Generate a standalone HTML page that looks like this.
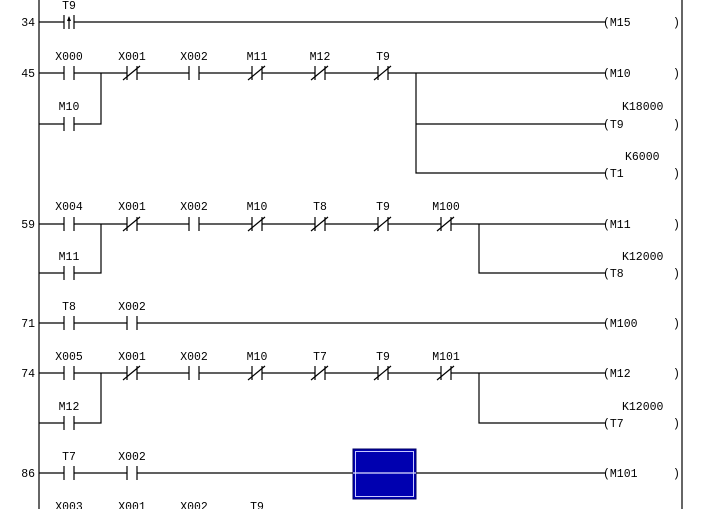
<!DOCTYPE html>
<html><head><meta charset="utf-8"><style>
html,body{margin:0;padding:0;background:#fff;}
svg{display:block;}
text{font-family:"Liberation Mono",monospace;font-size:11.5px;fill:#000;}
</style></head><body>
<svg width="703" height="509" viewBox="0 0 703 509" xmlns="http://www.w3.org/2000/svg">
<defs>
<g id="no"><rect x="-5" y="-8" width="10" height="16" fill="#fff"/><line x1="-5" y1="-7" x2="-5" y2="7" stroke="#000" stroke-width="1.2"/><line x1="5" y1="-7" x2="5" y2="7" stroke="#000" stroke-width="1.2"/></g>
<g id="nc"><use href="#no"/><line x1="-9" y1="7" x2="8" y2="-7" stroke="#000" stroke-width="1.2"/></g>
<g id="rp"><use href="#no"/><line x1="0" y1="-5" x2="0" y2="7" stroke="#000" stroke-width="1.2"/><polygon points="-2,-1 2,-1 0,-6" fill="#000"/></g>
</defs>
<g stroke="#000" stroke-width="1.2" fill="none">
<line x1="39" y1="0" x2="39" y2="509"/>
<line x1="682" y1="0" x2="682" y2="509"/>
<line x1="39" y1="22" x2="606" y2="22"/>
<line x1="39" y1="73" x2="606" y2="73"/>
<polyline points="39,124 101,124 101,73"/>
<polyline points="416,73 416,173 606,173"/>
<line x1="416" y1="124" x2="606" y2="124"/>
<line x1="39" y1="224" x2="606" y2="224"/>
<polyline points="39,273 101,273 101,224"/>
<polyline points="479,224 479,273 606,273"/>
<line x1="39" y1="323" x2="606" y2="323"/>
<line x1="39" y1="373" x2="606" y2="373"/>
<polyline points="39,423 101,423 101,373"/>
<polyline points="479,373 479,423 606,423"/>
<line x1="39" y1="473" x2="606" y2="473"/>
</g>
<!-- contacts -->
<use href="#rp" x="69" y="22"/>
<use href="#no" x="69" y="73"/><use href="#nc" x="132" y="73"/><use href="#no" x="194" y="73"/><use href="#nc" x="257" y="73"/><use href="#nc" x="320" y="73"/><use href="#nc" x="383" y="73"/>
<use href="#no" x="69" y="124"/>
<use href="#no" x="69" y="224"/><use href="#nc" x="132" y="224"/><use href="#no" x="194" y="224"/><use href="#nc" x="257" y="224"/><use href="#nc" x="320" y="224"/><use href="#nc" x="383" y="224"/><use href="#nc" x="446" y="224"/>
<use href="#no" x="69" y="273"/>
<use href="#no" x="69" y="323"/><use href="#no" x="132" y="323"/>
<use href="#no" x="69" y="373"/><use href="#nc" x="132" y="373"/><use href="#no" x="194" y="373"/><use href="#nc" x="257" y="373"/><use href="#nc" x="320" y="373"/><use href="#nc" x="383" y="373"/><use href="#nc" x="446" y="373"/>
<use href="#no" x="69" y="423"/>
<use href="#no" x="69" y="473"/><use href="#no" x="132" y="473"/>
<!-- blue box -->
<rect x="353" y="449" width="63" height="50" fill="#0000b0" stroke="#000060" stroke-width="1"/>
<rect x="355.5" y="451.5" width="58" height="45" fill="none" stroke="#c8c8ff" stroke-width="1"/>
<line x1="353" y1="473" x2="416" y2="473" stroke="#e0e0ff" stroke-width="1.2"/>
<!-- row numbers -->
<g text-anchor="end">
<text x="35" y="26">34</text><text x="35" y="77">45</text><text x="35" y="228">59</text>
<text x="35" y="327">71</text><text x="35" y="377">74</text><text x="35" y="477">86</text>
</g>
<!-- labels -->
<g text-anchor="middle">
<text x="69" y="9">T9</text>
<text x="69" y="60">X000</text><text x="132" y="60">X001</text><text x="194" y="60">X002</text><text x="257" y="60">M11</text><text x="320" y="60">M12</text><text x="383" y="60">T9</text>
<text x="69" y="110">M10</text>
<text x="69" y="210">X004</text><text x="132" y="210">X001</text><text x="194" y="210">X002</text><text x="257" y="210">M10</text><text x="320" y="210">T8</text><text x="383" y="210">T9</text><text x="446" y="210">M100</text>
<text x="69" y="260">M11</text>
<text x="69" y="310">T8</text><text x="132" y="310">X002</text>
<text x="69" y="360">X005</text><text x="132" y="360">X001</text><text x="194" y="360">X002</text><text x="257" y="360">M10</text><text x="320" y="360">T7</text><text x="383" y="360">T9</text><text x="446" y="360">M101</text>
<text x="69" y="410">M12</text>
<text x="69" y="460">T7</text><text x="132" y="460">X002</text>
<text x="69" y="510">X003</text><text x="132" y="510">X001</text><text x="194" y="510">X002</text><text x="257" y="510">T9</text>
</g>
<!-- coils -->
<g>
<text x="603" y="26">(M15</text><text x="673" y="26">)</text>
<text x="603" y="77">(M10</text><text x="673" y="77">)</text>
<text x="622" y="110">K18000</text>
<text x="603" y="128">(T9</text><text x="673" y="128">)</text>
<text x="625" y="160">K6000</text>
<text x="603" y="177">(T1</text><text x="673" y="177">)</text>
<text x="603" y="228">(M11</text><text x="673" y="228">)</text>
<text x="622" y="260">K12000</text>
<text x="603" y="277">(T8</text><text x="673" y="277">)</text>
<text x="603" y="327">(M100</text><text x="673" y="327">)</text>
<text x="603" y="377">(M12</text><text x="673" y="377">)</text>
<text x="622" y="410">K12000</text>
<text x="603" y="427">(T7</text><text x="673" y="427">)</text>
<text x="603" y="477">(M101</text><text x="673" y="477">)</text>
</g>
</svg>
</body></html>
